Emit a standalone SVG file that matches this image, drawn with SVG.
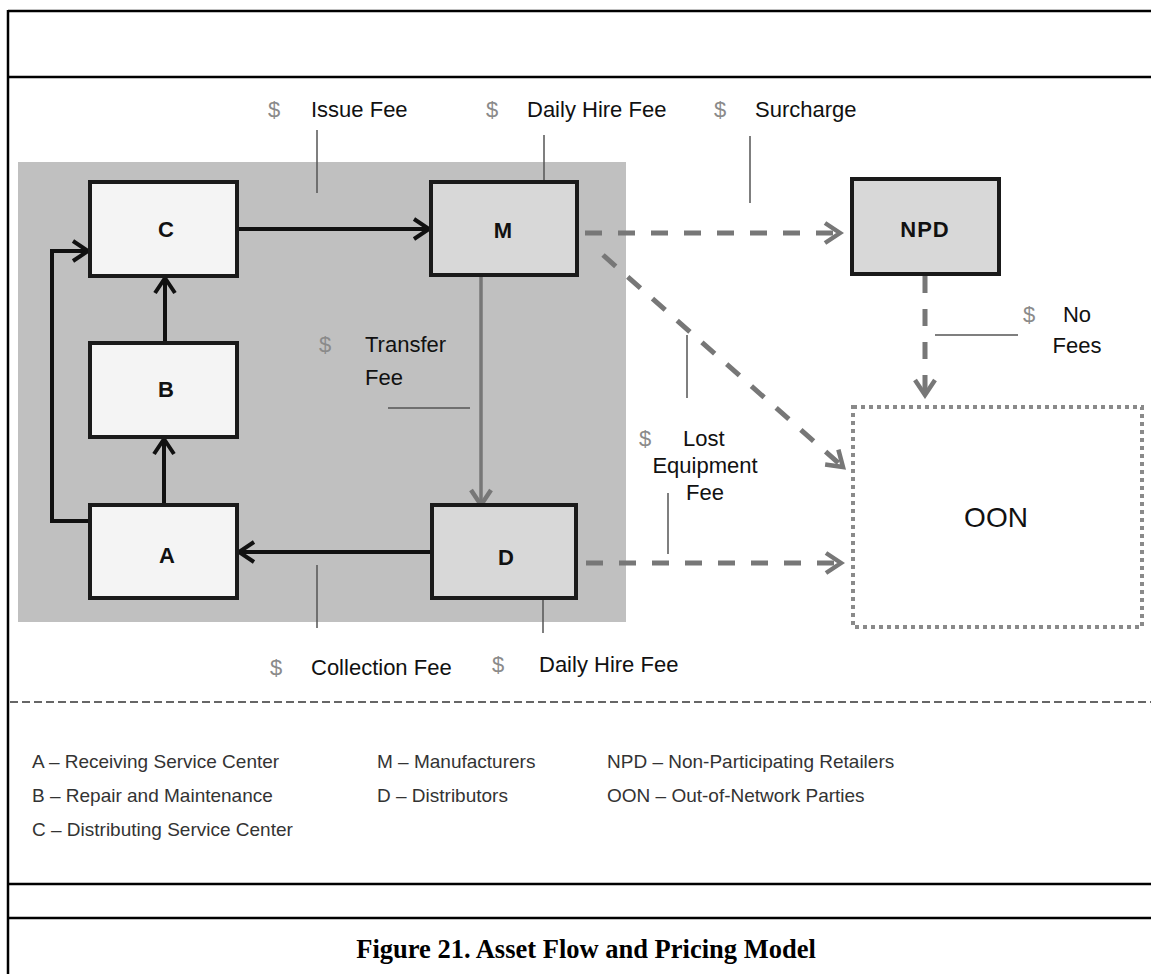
<svg xmlns="http://www.w3.org/2000/svg" width="1151" height="974" viewBox="0 0 1151 974">
  <style>
    .frame { stroke: #000; stroke-width: 2.5; fill: none; }
    .box-light { fill: #f4f4f4; stroke: #1a1a1a; stroke-width: 4; }
    .box-mid { fill: #d8d8d8; stroke: #1a1a1a; stroke-width: 4; }
    .box-ext { fill: #ffffff; stroke: #8a8a8a; stroke-width: 4; stroke-dasharray: 4 4; }
    .node-label { font-family: "Liberation Sans", Arial, sans-serif; font-size: 22px; font-weight: bold; fill: #111; text-anchor: middle; }
    .ext-label { font-family: "Liberation Sans", Arial, sans-serif; font-size: 28px; fill: #111; text-anchor: middle; }
    .fee { font-family: "Liberation Sans", Arial, sans-serif; font-size: 22px; fill: #111; }
    .dollar { font-family: "Liberation Sans", Arial, sans-serif; font-size: 22px; fill: #8a8a8a; }
    .legend { font-family: "Liberation Sans", Arial, sans-serif; font-size: 19px; fill: #333; }
    .caption { font-family: "Liberation Serif", "Times New Roman", serif; font-size: 26.5px; font-weight: bold; fill: #000; text-anchor: middle; }
    .leader { stroke: #555; stroke-width: 1.5; fill: none; }
    .flow-black { stroke: #111; stroke-width: 4; fill: none; }
    .flow-grey { stroke: #777; stroke-width: 3.5; fill: none; }
    .flow-dash { stroke: #777; stroke-width: 5; fill: none; stroke-dasharray: 17 16; }
  </style>
  <defs>
    <marker id="arrow-black" viewBox="-20 -14 24 28" refX="0" refY="0" markerWidth="24" markerHeight="28" markerUnits="userSpaceOnUse" orient="auto">
      <path d="M-15,-10 L0,0 L-15,10" fill="none" stroke="#111" stroke-width="4" stroke-linejoin="miter"/>
    </marker>
    <marker id="arrow-grey" viewBox="-20 -14 24 28" refX="0" refY="0" markerWidth="24" markerHeight="28" markerUnits="userSpaceOnUse" orient="auto">
      <path d="M-15,-10 L0,0 L-15,10" fill="none" stroke="#777" stroke-width="4.5" stroke-linejoin="miter"/>
    </marker>
  </defs>

  <rect width="1151" height="974" fill="#ffffff"/>

  <!-- page frame -->
  <g id="frame">
    <line class="frame" x1="8" y1="11" x2="1151" y2="11"/>
    <line class="frame" x1="8" y1="77" x2="1151" y2="77"/>
    <line class="frame" x1="8" y1="884" x2="1151" y2="884"/>
    <line class="frame" x1="8" y1="918" x2="1151" y2="918"/>
    <line class="frame" x1="8" y1="10" x2="8" y2="974"/>
    <line x1="10" y1="702" x2="1151" y2="702" stroke="#666" stroke-width="2" stroke-dasharray="8 4"/>
  </g>

  <!-- shaded network area -->
  <rect id="network-area" x="18" y="162" width="608" height="460" fill="#c0c0c0"/>

  <!-- fee leader lines -->
  <g id="leaders">
    <line class="leader" x1="317" y1="130" x2="317" y2="193"/>
    <line class="leader" x1="544" y1="135" x2="544" y2="202"/>
    <line class="leader" x1="750" y1="136" x2="750" y2="203"/>
    <line class="leader" x1="388" y1="408" x2="470" y2="408"/>
    <line class="leader" x1="687" y1="335" x2="687" y2="398"/>
    <line class="leader" x1="668" y1="493" x2="668" y2="554"/>
    <line class="leader" x1="317" y1="565" x2="317" y2="628"/>
    <line class="leader" x1="543" y1="558" x2="543" y2="633"/>
    <line class="leader" x1="935" y1="335" x2="1018" y2="335"/>
  </g>

  <!-- connectors -->
  <g id="connectors">
    <line class="flow-black" x1="237" y1="229" x2="429" y2="229" marker-end="url(#arrow-black)"/>
    <line class="flow-black" x1="165" y1="343" x2="165" y2="278" marker-end="url(#arrow-black)"/>
    <line class="flow-black" x1="164" y1="505" x2="164" y2="439" marker-end="url(#arrow-black)"/>
    <polyline class="flow-black" points="90,521 52,521 52,251 88,251" marker-end="url(#arrow-black)"/>
    <line class="flow-black" x1="432" y1="552" x2="239" y2="552" marker-end="url(#arrow-black)"/>
    <line class="flow-grey" x1="481" y1="275" x2="481" y2="505" marker-end="url(#arrow-grey)"/>
    <line class="flow-dash" x1="585" y1="233" x2="840" y2="233" marker-end="url(#arrow-grey)"/>
    <line class="flow-dash" x1="603" y1="255" x2="843" y2="467" marker-end="url(#arrow-grey)"/>
    <line class="flow-dash" x1="925" y1="276" x2="925" y2="395" marker-end="url(#arrow-grey)"/>
    <line class="flow-dash" x1="586" y1="563" x2="841" y2="563" marker-end="url(#arrow-grey)"/>
  </g>

  <!-- nodes -->
  <g id="node-C">
    <rect class="box-light" x="90" y="182" width="147" height="94"/>
    <text class="node-label" x="166" y="237">C</text>
  </g>
  <g id="node-B">
    <rect class="box-light" x="90" y="343" width="147" height="94"/>
    <text class="node-label" x="166" y="397">B</text>
  </g>
  <g id="node-A">
    <rect class="box-light" x="90" y="505" width="147" height="93"/>
    <text class="node-label" x="167" y="563">A</text>
  </g>
  <g id="node-M">
    <rect class="box-mid" x="431" y="182" width="146" height="93"/>
    <text class="node-label" x="503" y="238">M</text>
  </g>
  <g id="node-D">
    <rect class="box-mid" x="432" y="505" width="144" height="93"/>
    <text class="node-label" x="506" y="565">D</text>
  </g>
  <g id="node-NPD">
    <rect class="box-mid" x="852" y="179" width="147" height="95"/>
    <text class="node-label" x="925" y="237" letter-spacing="1">NPD</text>
  </g>
  <g id="node-OON">
    <rect class="box-ext" x="853" y="407" width="289" height="220"/>
    <text class="ext-label" x="996" y="527">OON</text>
  </g>

  <!-- fee labels -->
  <g id="fee-labels">
    <text class="dollar" x="268" y="117">$</text>
    <text class="fee" x="311" y="117">Issue Fee</text>
    <text class="dollar" x="486" y="117">$</text>
    <text class="fee" x="527" y="117">Daily Hire Fee</text>
    <text class="dollar" x="714" y="117">$</text>
    <text class="fee" x="755" y="117">Surcharge</text>

    <text class="dollar" x="319" y="352">$</text>
    <text class="fee" x="365" y="352">Transfer</text>
    <text class="fee" x="365" y="385">Fee</text>

    <text class="dollar" x="1023" y="322">$</text>
    <text class="fee" x="1077" y="322" text-anchor="middle">No</text>
    <text class="fee" x="1077" y="353" text-anchor="middle">Fees</text>

    <text class="dollar" x="639" y="446">$</text>
    <text class="fee" x="683" y="446">Lost</text>
    <text class="fee" x="705" y="473" text-anchor="middle">Equipment</text>
    <text class="fee" x="705" y="500" text-anchor="middle">Fee</text>

    <text class="dollar" x="270" y="675">$</text>
    <text class="fee" x="311" y="675">Collection Fee</text>
    <text class="dollar" x="492" y="672">$</text>
    <text class="fee" x="539" y="672">Daily Hire Fee</text>
  </g>

  <!-- legend -->
  <g id="legend">
    <text class="legend" x="32" y="768">A – Receiving Service Center</text>
    <text class="legend" x="32" y="802">B – Repair and Maintenance</text>
    <text class="legend" x="32" y="836">C – Distributing Service Center</text>
    <text class="legend" x="377" y="768">M – Manufacturers</text>
    <text class="legend" x="377" y="802">D – Distributors</text>
    <text class="legend" x="607" y="768">NPD – Non-Participating Retailers</text>
    <text class="legend" x="607" y="802">OON – Out-of-Network Parties</text>
  </g>

  <text id="caption" class="caption" x="586" y="958">Figure 21. Asset Flow and Pricing Model</text>
</svg>
